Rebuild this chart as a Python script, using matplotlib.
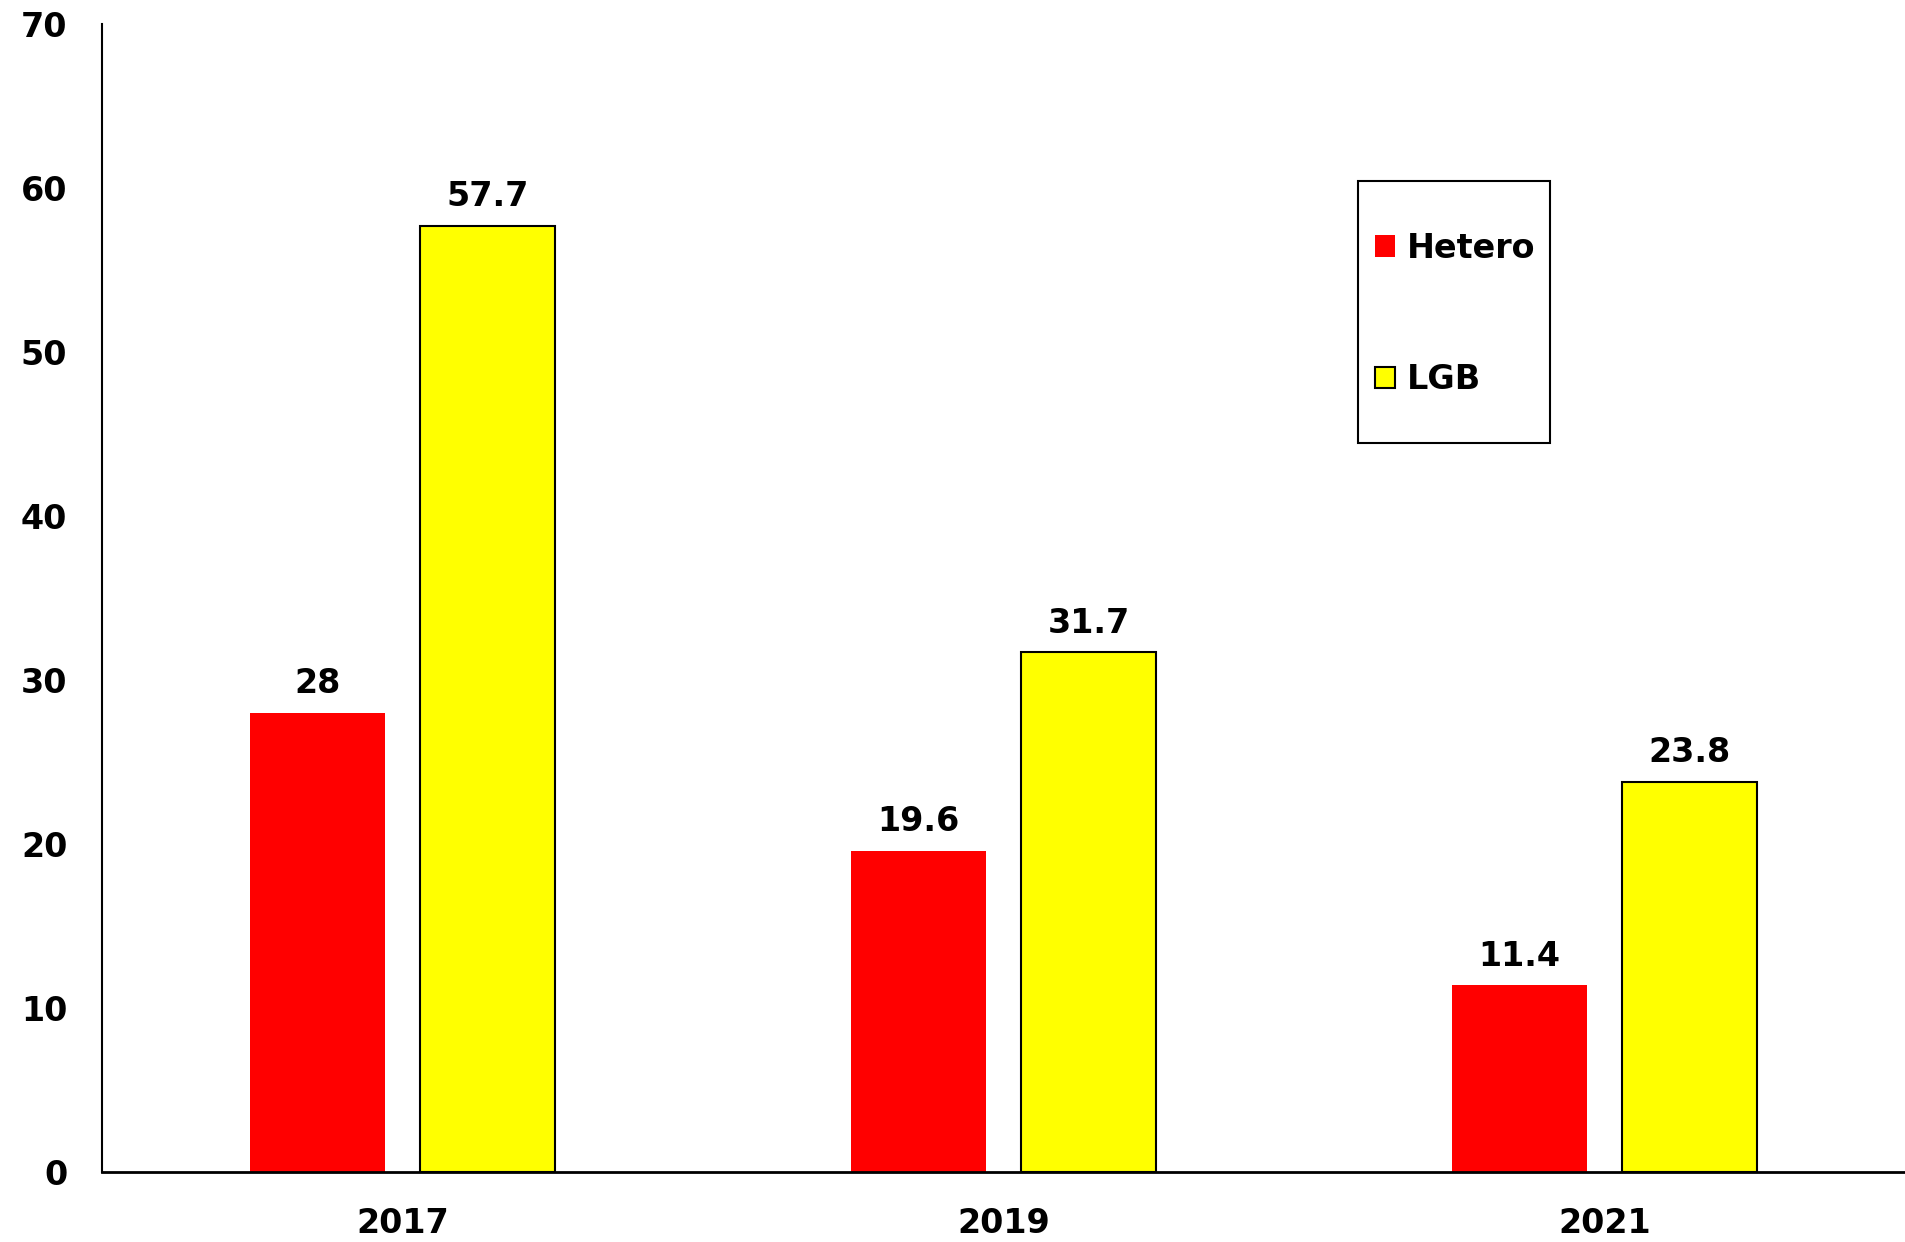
import matplotlib
matplotlib.use("Agg")
import matplotlib.pyplot as plt
from matplotlib.patches import Rectangle
import numpy as np

years = ["2017", "2019", "2021"]
hetero = [28, 19.6, 11.4]
lgb = [57.7, 31.7, 23.8]
yticks = [0, 10, 20, 30, 40, 50, 60, 70]

plt.rcParams['font.family'] = ['DejaVu Sans']
plt.rcParams['font.weight'] = 'bold'

W, H = 1905, 1242
fig = plt.figure(figsize=(W/100, H/100), dpi=100)
ax = fig.add_axes([102/W, 1 - 1172/H, 1 - 102/W, (1172-24)/H])

x = np.arange(len(years))
w = 0.225
off = 0.142
b1 = ax.bar(x - off, hetero, w, color='#ff0000', edgecolor='none', label='Hetero')
b2 = ax.bar(x + off, lgb, w, color='#ffff00', edgecolor='black', linewidth=1.5, label='LGB')

FS = 24
for bars, vals in ((b1, hetero), (b2, lgb)):
    for r, v in zip(bars, vals):
        ax.annotate(f"{v:g}", (r.get_x() + r.get_width()/2, r.get_height()),
                    xytext=(0, 9), textcoords='offset points', ha='center', va='bottom',
                    fontsize=FS, fontweight='bold')

ax.set_xlim(-0.5, 2.5)
ax.set_ylim(0, 70)
ax.set_yticks(yticks)
ax.set_xticks(x)
ax.set_xticklabels(years)
ax.tick_params(axis='both', length=0, labelsize=FS)
ax.tick_params(axis='y', pad=25)
ax.tick_params(axis='x', pad=25)
for lab in ax.get_xticklabels() + ax.get_yticklabels():
    lab.set_fontweight('bold')

ax.spines['top'].set_visible(False)
ax.spines['right'].set_visible(False)
ax.spines['left'].set_linewidth(1.5)
ax.spines['bottom'].set_linewidth(2)

leg = ax.legend(loc='center left', bbox_to_anchor=(1375/W, 1 - 314/H),
                bbox_transform=fig.transFigure, frameon=False,
                prop={'size': FS, 'weight': 'bold'}, handlelength=0.6, handleheight=0.6,
                handletextpad=0.35, labelspacing=2.95, borderpad=0, borderaxespad=0)

fig.patches.append(Rectangle((1358/W, 1 - 443/H), (1550-1358)/W, (443-181)/H,
                             transform=fig.transFigure, fill=False,
                             edgecolor='black', linewidth=1.5))

fig.savefig("out.png", dpi=100)
